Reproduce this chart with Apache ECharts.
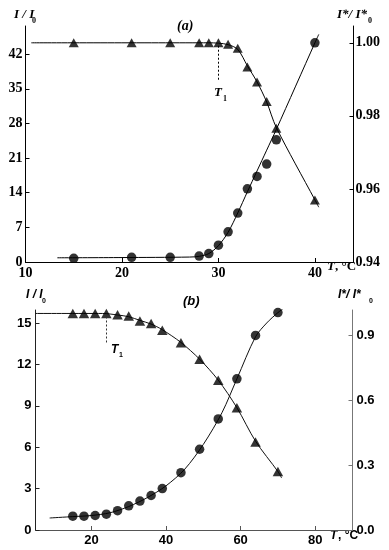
<!DOCTYPE html>
<html><head><meta charset="utf-8">
<script src="https://cdn.jsdelivr.net/npm/echarts@6/dist/echarts.min.js"></script>
<style>html,body{margin:0;padding:0;background:#fff}#c{width:389px;height:550px}</style>
</head><body><div id="c"></div>
<script>
// ---- Panel (a) data ----
const aT = [15, 21, 25, 28, 29, 30, 31, 32, 33, 34, 35, 36, 40];
const aCircle = [0.75, 0.95, 0.95, 1.2, 1.7, 3.4, 6.1, 9.9, 14.8, 17.3, 19.8, 24.7, 44.3];
const aTriangle = [1.00, 1.00, 1.00, 1.00, 1.00, 1.00, 0.9996, 0.9985, 0.9934, 0.9893, 0.9839, 0.9766, 0.957];
const aCircleFitT = [13.3, 20, 27, 28, 29, 30, 31, 32, 33, 34, 35, 36, 40, 40.4];
const aCircleFitV = [0.85, 0.9, 1.0, 1.15, 1.7, 3.3, 6.0, 9.9, 14.2, 18.4, 22.6, 26.8, 44.3, 46.0];
const aTriFitT = [10.6, 29, 30, 31, 32, 33, 34, 35, 36, 40, 40.4];
const aTriFitV = [1.0, 1.0, 0.9999, 0.9995, 0.9982, 0.9937, 0.9893, 0.9838, 0.9768, 0.957, 0.955];
const aT1 = 30;
const aXTicks = [10, 20, 30, 40];
const aYLeftTicks = [0, 7, 14, 21, 28, 35, 42];
const aYRightTicks = [0.94, 0.96, 0.98, 1.00];

// ---- Panel (b) data ----
const bT = [15, 18, 21, 24, 27, 30, 33, 36, 39, 44, 49, 54, 59, 64, 70];
const bCircle = [1.0, 1.0, 1.05, 1.15, 1.4, 1.75, 2.1, 2.5, 3.0, 4.15, 5.85, 8.05, 10.95, 14.1, 15.75];
const bTriangle = [1.0, 1.0, 1.0, 1.0, 0.994, 0.988, 0.965, 0.954, 0.923, 0.865, 0.788, 0.692, 0.564, 0.406, 0.270];
const bCircleFitT = [8.8, 15, 20, 25, 30, 35, 40, 45, 50, 55, 59, 64, 67, 70, 71.5];
const bCircleFitV = [0.87, 0.97, 1.05, 1.25, 1.7, 2.35, 3.2, 4.4, 6.2, 8.5, 10.95, 14.0, 15.0, 15.75, 16.05];
const bTriFitT = [5, 23, 27, 30, 33, 36, 39, 44, 49, 54, 59, 64, 70, 71];
const bTriFitV = [1.0, 1.0, 0.993, 0.985, 0.968, 0.951, 0.925, 0.866, 0.789, 0.692, 0.565, 0.41, 0.27, 0.24];
const bT1 = 24;
const bXTicks = [20, 40, 60, 80];
const bYLeftTicks = [0, 3, 6, 9, 12, 15];
const bYRightTicks = [0, 0.3, 0.6, 0.9];

const zip = (xs, ys) => xs.map((x, i) => [x, ys[i]]);
const SERIF = '"Liberation Serif", "Times New Roman", serif';
const SANS = '"Liberation Sans", Arial, sans-serif';

function mkAxisStyle(color) {
  return { show: true, onZero: false, lineStyle: { color: color, width: 1 } };
}

const chart = echarts.init(document.getElementById('c'), null, { renderer: 'canvas' });

const labA = { fontFamily: SERIF, fontWeight: 'bold', fontSize: 14, color: '#000' };
const labB = { fontFamily: SANS, fontWeight: 'bold', fontSize: 13, color: '#000' };

chart.setOption({
  animation: false,
  backgroundColor: '#fff',
  grid: [
    { left: 25.5, right: 35.5, top: 26, bottom: 288 },
    { left: 35.5, right: 36.5, top: 310, bottom: 20 }
  ],
  xAxis: [
    { gridIndex: 0, type: 'value', min: 10, max: 44, interval: 10,
      axisLine: mkAxisStyle('#000'),
      axisTick: { show: true, inside: true, length: 4, customValues: [20, 30, 40], lineStyle: { color: '#000' } },
      axisLabel: Object.assign({ customValues: aXTicks, margin: 4 }, labA),
      splitLine: { show: false } },
    { gridIndex: 1, type: 'value', min: 5, max: 90,
      axisLine: mkAxisStyle('#555'),
      axisTick: { show: true, inside: true, length: 4, customValues: bXTicks, lineStyle: { color: '#555' } },
      axisLabel: Object.assign({ customValues: bXTicks, margin: 4 }, labB),
      splitLine: { show: false } }
  ],
  yAxis: [
    { gridIndex: 0, type: 'value', min: 0, max: 47.7, position: 'left',
      axisLine: mkAxisStyle('#000'),
      axisTick: { show: true, inside: true, length: 4, customValues: aYLeftTicks, lineStyle: { color: '#000' } },
      axisLabel: Object.assign({ customValues: aYLeftTicks, margin: 3 }, labA),
      splitLine: { show: false } },
    { gridIndex: 0, type: 'value', min: 0.94, max: 1.0046, position: 'right',
      axisLine: mkAxisStyle('#000'),
      axisTick: { show: true, inside: true, length: 4, customValues: aYRightTicks, lineStyle: { color: '#000' } },
      axisLabel: Object.assign({ customValues: aYRightTicks, margin: 2, formatter: v => v.toFixed(2) }, labA),
      splitLine: { show: false } },
    { gridIndex: 1, type: 'value', min: 0, max: 15.94, position: 'left',
      axisLine: mkAxisStyle('#222'),
      axisTick: { show: true, inside: true, length: 4, customValues: bYLeftTicks, lineStyle: { color: '#222' } },
      axisLabel: Object.assign({ customValues: bYLeftTicks, margin: 4 }, labB),
      splitLine: { show: false } },
    { gridIndex: 1, type: 'value', min: 0, max: 1.016, position: 'right',
      axisLine: mkAxisStyle('#777'),
      axisTick: { show: true, inside: true, length: 4, customValues: bYRightTicks, lineStyle: { color: '#777' } },
      axisLabel: Object.assign({ customValues: bYRightTicks, margin: 4, formatter: v => v.toFixed(1) }, labB),
      splitLine: { show: false } }
  ],
  series: [
    // panel a fits
    { type: 'line', xAxisIndex: 0, yAxisIndex: 0, data: zip(aCircleFitT, aCircleFitV), smooth: 0.3,
      showSymbol: false, lineStyle: { color: '#000', width: 1 }, z: 2 },
    { type: 'line', xAxisIndex: 0, yAxisIndex: 1, data: zip(aTriFitT, aTriFitV), smooth: 0.3,
      showSymbol: false, lineStyle: { color: '#000', width: 1 }, z: 2,
      markLine: { silent: true, symbol: 'none', label: { show: false },
        lineStyle: { color: '#000', width: 1, type: [2, 2] },
        data: [[{ coord: [aT1, 0.9992] }, { coord: [aT1, 0.9898] }]] } },
    // panel a markers
    { type: 'scatter', xAxisIndex: 0, yAxisIndex: 0, data: zip(aT, aCircle), symbol: 'circle', symbolSize: 9.5,
      itemStyle: { color: '#000' }, z: 3 },
    { type: 'scatter', xAxisIndex: 0, yAxisIndex: 1, data: zip(aT, aTriangle), symbol: 'triangle', symbolSize: [10, 9],
      itemStyle: { color: '#000' }, z: 3 },
    // panel b fits
    { type: 'line', xAxisIndex: 1, yAxisIndex: 2, data: zip(bCircleFitT, bCircleFitV), smooth: 0.3,
      showSymbol: false, lineStyle: { color: '#111', width: 1 }, z: 2 },
    { type: 'line', xAxisIndex: 1, yAxisIndex: 3, data: zip(bTriFitT, bTriFitV), smooth: 0.3,
      showSymbol: false, lineStyle: { color: '#111', width: 1 }, z: 2,
      markLine: { silent: true, symbol: 'none', label: { show: false },
        lineStyle: { color: '#333', width: 1, type: [2, 2] },
        data: [[{ coord: [bT1, 0.986] }, { coord: [bT1, 0.866] }]] } },
    // panel b markers
    { type: 'scatter', xAxisIndex: 1, yAxisIndex: 2, data: zip(bT, bCircle), symbol: 'circle', symbolSize: 9.5,
      itemStyle: { color: '#000' }, z: 3 },
    { type: 'scatter', xAxisIndex: 1, yAxisIndex: 3, data: zip(bT, bTriangle), symbol: 'triangle', symbolSize: [10.5, 9.5],
      itemStyle: { color: '#000' }, z: 3 }
  ],
  graphic: [
    // panel a texts
    { type: 'text', left: 14, top: 8, style: { text: 'I / I', font: 'italic bold 13px ' + SERIF, fill: '#000' } },
    { type: 'text', left: 32, top: 17, style: { text: '0', font: 'bold 8px ' + SERIF, fill: '#000' } },
    { type: 'text', left: 337, top: 8, style: { text: 'I*/ I*', font: 'italic bold 13px ' + SERIF, fill: '#000' } },
    { type: 'text', left: 368, top: 17, style: { text: '0', font: 'bold 8px ' + SERIF, fill: '#000' } },
    { type: 'text', left: 177, top: 19, style: { text: '(a)', font: 'italic bold 14px ' + SERIF, fill: '#000' } },
    { type: 'text', left: 214, top: 86, style: { text: 'T', font: 'italic bold 13px ' + SERIF, fill: '#000' } },
    { type: 'text', left: 223, top: 95, style: { text: '1', font: 'bold 8px ' + SERIF, fill: '#000' } },
    { type: 'text', left: 327, top: 260, style: { text: 'T', font: 'italic bold 13px ' + SERIF, fill: '#000' } },
    { type: 'text', left: 335, top: 260, style: { text: ', °C', font: 'bold 13px ' + SERIF, fill: '#000' } },
    // panel b texts
    { type: 'text', left: 26, top: 289, style: { text: 'I / I', font: 'italic bold 12px ' + SANS, fill: '#000' } },
    { type: 'text', left: 42, top: 298, style: { text: '0', font: 'bold 7px ' + SANS, fill: '#000' } },
    { type: 'text', left: 338, top: 289, style: { text: 'I*/ I*', font: 'italic bold 12px ' + SANS, fill: '#000' } },
    { type: 'text', left: 369, top: 298, style: { text: '0', font: 'bold 7px ' + SANS, fill: '#000' } },
    { type: 'text', left: 183, top: 295, style: { text: '(b)', font: 'italic bold 13px ' + SANS, fill: '#000' } },
    { type: 'text', left: 111, top: 344, style: { text: 'T', font: 'italic bold 12px ' + SANS, fill: '#000' } },
    { type: 'text', left: 119, top: 352, style: { text: '1', font: 'bold 7px ' + SANS, fill: '#000' } },
    { type: 'text', left: 330, top: 530, style: { text: 'T', font: 'italic bold 12px ' + SANS, fill: '#000' } },
    { type: 'text', left: 338, top: 530, style: { text: ', °C', font: 'bold 12px ' + SANS, fill: '#000' } }
  ]
});
</script>
</body></html>
